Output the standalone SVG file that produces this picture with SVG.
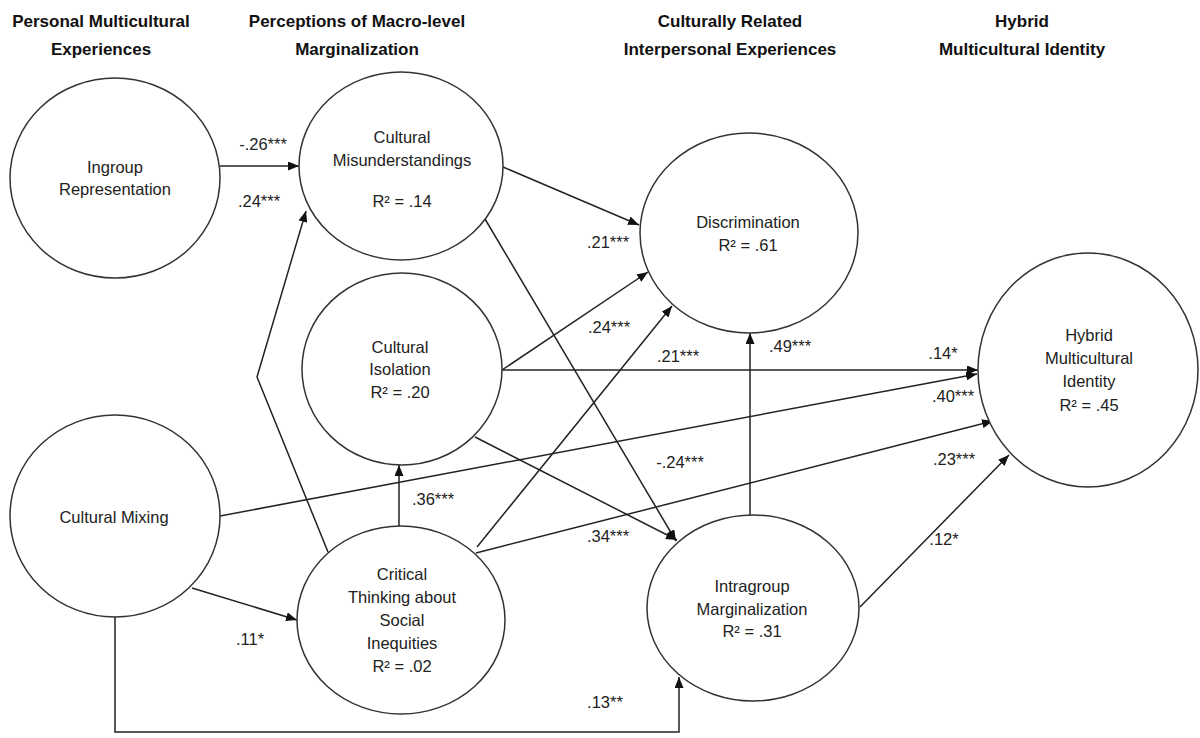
<svg xmlns="http://www.w3.org/2000/svg" width="1200" height="738" viewBox="0 0 1200 738">
<style>
.hd{font-family:"Liberation Sans",Arial,sans-serif;font-weight:bold;font-size:17px;fill:#111;text-anchor:middle}
.nd ellipse{fill:#fff;stroke:#333;stroke-width:1.5}
.nd text{font-family:"Liberation Sans",Arial,sans-serif;font-size:16.5px;fill:#222;text-anchor:middle}
.ed{fill:none;stroke:#222;stroke-width:1.5;marker-end:url(#ah)}
.lb{font-family:"Liberation Sans",Arial,sans-serif;font-size:16.5px;fill:#222;text-anchor:middle}
</style>
<defs>
<marker id="ah" markerUnits="userSpaceOnUse" markerWidth="11" markerHeight="9" refX="11" refY="4.5" orient="auto">
<path d="M0,0 L11,4.5 L0,9 z" fill="#111"/>
</marker>
</defs>
<rect width="1200" height="738" fill="#fff"/>
<g id="headers">
<text class="hd" x="101" y="27">Personal Multicultural</text>
<text class="hd" x="101" y="55">Experiences</text>
<text class="hd" x="357" y="27">Perceptions of Macro-level</text>
<text class="hd" x="357" y="55">Marginalization</text>
<text class="hd" x="730" y="27">Culturally Related</text>
<text class="hd" x="730" y="55">Interpersonal Experiences</text>
<text class="hd" x="1022" y="27">Hybrid</text>
<text class="hd" x="1022" y="55">Multicultural Identity</text>
</g>
<g id="connectors">
<path class="ed" d="M220,166 L299,166"/>
<path class="ed" d="M328,552 L257,377 L306,211"/>
<path class="ed" d="M503,167 L639,225"/>
<path class="ed" d="M485,219 L676,541"/>
<path class="ed" d="M502,370 L648,272"/>
<path class="ed" d="M502,370 L978,370"/>
<path class="ed" d="M475,437 L677,540"/>
<path class="ed" d="M399,526 L399,465"/>
<path class="ed" d="M477,547 L672,306"/>
<path class="ed" d="M476,553 L993,421"/>
<path class="ed" d="M750,515 L750,333"/>
<path class="ed" d="M860,607 L1009,455"/>
<path class="ed" d="M192,588 L297,620"/>
<path class="ed" d="M115,617 L115,732 L679,732 L679,677"/>
<path class="ed" d="M220,516 L977,374"/>
</g>
<g id="labels">
<text class="lb" x="263" y="150">-.26***</text>
<text class="lb" x="259" y="207">.24***</text>
<text class="lb" x="608" y="248">.21***</text>
<text class="lb" x="609" y="333">.24***</text>
<text class="lb" x="678" y="362">.21***</text>
<text class="lb" x="790" y="352">.49***</text>
<text class="lb" x="943" y="359">.14*</text>
<text class="lb" x="953" y="402">.40***</text>
<text class="lb" x="680" y="468">-.24***</text>
<text class="lb" x="954" y="465">.23***</text>
<text class="lb" x="433" y="505">.36***</text>
<text class="lb" x="608" y="542">.34***</text>
<text class="lb" x="944" y="545">.12*</text>
<text class="lb" x="250" y="645">.11*</text>
<text class="lb" x="605" y="708">.13**</text>
</g>
<g id="ingroup" class="nd">
<ellipse cx="115" cy="178" rx="105" ry="100"/>
<text x="115" y="173">Ingroup</text>
<text x="115" y="195">Representation</text>
</g>
<g id="misunderstandings" class="nd">
<ellipse cx="401" cy="166" rx="102" ry="94"/>
<text x="402" y="143">Cultural</text>
<text x="402" y="166">Misunderstandings</text>
<text x="402" y="207">R² = .14</text>
</g>
<g id="isolation" class="nd">
<ellipse cx="402" cy="369" rx="100" ry="96"/>
<text x="400" y="353">Cultural</text>
<text x="400" y="375">Isolation</text>
<text x="400" y="398">R² = .20</text>
</g>
<g id="critical" class="nd">
<ellipse cx="401" cy="620" rx="104" ry="94"/>
<text x="402" y="580">Critical</text>
<text x="402" y="603">Thinking about</text>
<text x="402" y="626">Social</text>
<text x="402" y="649">Inequities</text>
<text x="402" y="672">R² = .02</text>
</g>
<g id="mixing" class="nd">
<ellipse cx="115" cy="516" rx="105" ry="101"/>
<text x="114" y="523">Cultural Mixing</text>
</g>
<g id="discrimination" class="nd">
<ellipse cx="749" cy="233" rx="109" ry="100"/>
<text x="748" y="228">Discrimination</text>
<text x="748" y="251">R² = .61</text>
</g>
<g id="intragroup" class="nd">
<ellipse cx="753" cy="608" rx="106" ry="93"/>
<text x="752" y="592">Intragroup</text>
<text x="752" y="615">Marginalization</text>
<text x="752" y="637">R² = .31</text>
</g>
<g id="hybrid" class="nd">
<ellipse cx="1088" cy="370" rx="110" ry="117"/>
<text x="1089" y="341">Hybrid</text>
<text x="1089" y="364">Multicultural</text>
<text x="1089" y="387">Identity</text>
<text x="1089" y="411">R² = .45</text>
</g>
</svg>
